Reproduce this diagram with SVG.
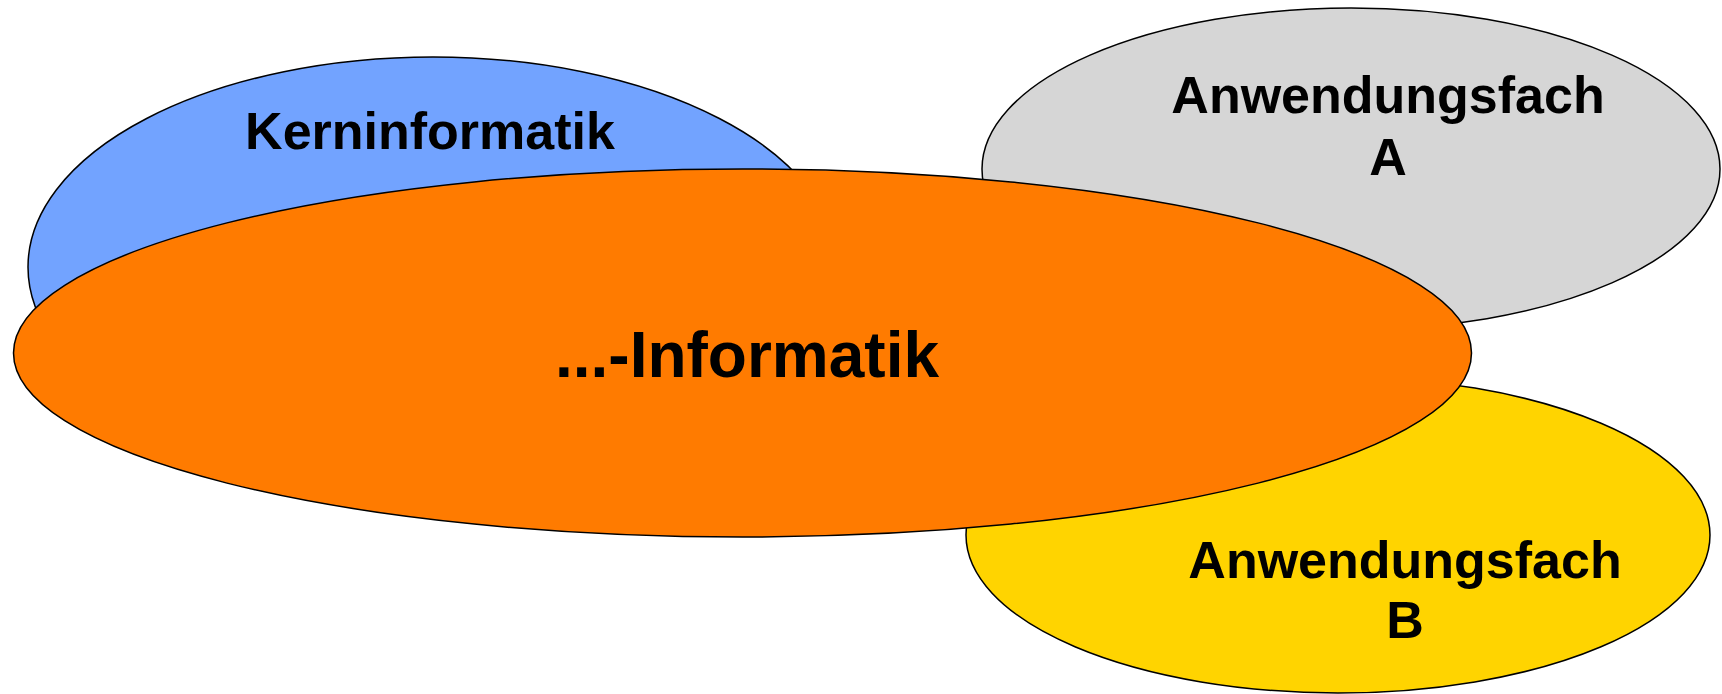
<svg xmlns="http://www.w3.org/2000/svg" width="1722" height="694" viewBox="0 0 1722 694">
<style>
.e{stroke:#000;stroke-width:1.5}
.t{font-family:"Liberation Sans",Arial,sans-serif;font-weight:bold;fill:#000;text-anchor:middle}
</style>
<rect width="1722" height="694" fill="#fff"/>
<g id="kern">
<ellipse class="e" cx="433" cy="267" rx="405" ry="210" fill="#72A3FF"/>
<text class="t" x="430" y="149" font-size="52">Kerninformatik</text>
</g>
<g id="anwA">
<ellipse class="e" cx="1351" cy="169" rx="369" ry="161" fill="#D6D6D6"/>
<text class="t" x="1388" y="113" font-size="52">Anwendungsfach</text>
<text class="t" x="1388" y="175" font-size="52">A</text>
</g>
<g id="anwB">
<ellipse class="e" cx="1338" cy="535" rx="372" ry="158" fill="#FFD400"/>
<text class="t" x="1405" y="578" font-size="52">Anwendungsfach</text>
<text class="t" x="1405" y="638" font-size="52">B</text>
</g>
<g id="info">
<ellipse class="e" cx="742.5" cy="353" rx="729" ry="184" fill="#FF7B00"/>
<text class="t" x="747" y="377" font-size="64">...-Informatik</text>
</g>
<g id="connectors"/>
</svg>
